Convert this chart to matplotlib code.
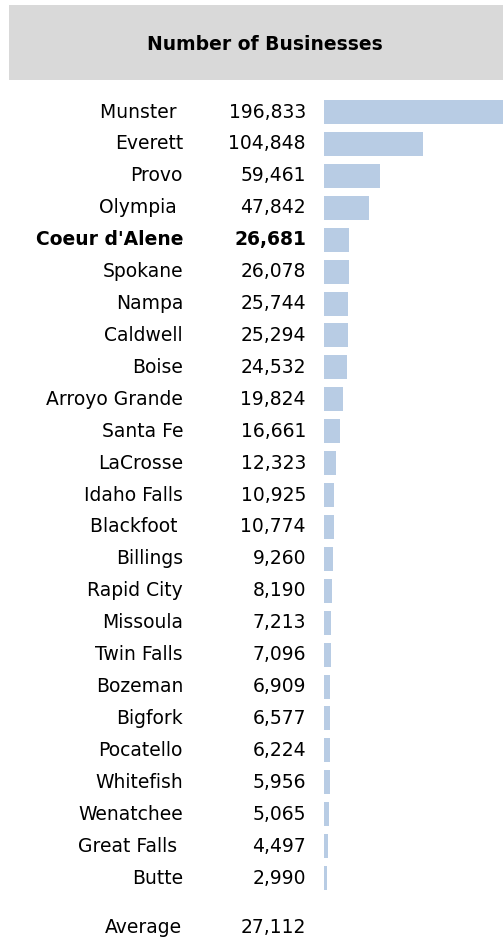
import matplotlib
matplotlib.use("Agg")
import matplotlib.pyplot as plt
import matplotlib.transforms as mtransforms
from matplotlib.patches import Rectangle

title = "Number of Businesses"
cities = ["Munster ", "Everett", "Provo", "Olympia ", "Coeur d'Alene", "Spokane",
          "Nampa", "Caldwell", "Boise", "Arroyo Grande", "Santa Fe", "LaCrosse",
          "Idaho Falls", "Blackfoot ", "Billings", "Rapid City", "Missoula",
          "Twin Falls", "Bozeman", "Bigfork", "Pocatello", "Whitefish",
          "Wenatchee", "Great Falls ", "Butte"]
businesses = [196833, 104848, 59461, 47842, 26681, 26078, 25744, 25294, 24532,
              19824, 16661, 12323, 10925, 10774, 9260, 8190, 7213, 7096, 6909,
              6577, 6224, 5956, 5065, 4497, 2990]
highlight = "Coeur d'Alene"
avg_label = "Average"
avg_value = 27112

W, H = 503, 940
fig = plt.figure(figsize=(W / 100, H / 100), dpi=100)
fig.patch.set_facecolor("white")

# gray header band
fig.patches.append(Rectangle((9 / W, 1 - 80 / H), 1 - 9 / W, 75 / H,
                             transform=fig.transFigure, facecolor="#D9D9D9",
                             edgecolor="none", zorder=0))
fig.text(264.5 / W, 1 - 44 / H, title, ha="center", va="center",
         fontsize=13.5, fontweight="bold", color="black")

# row 0 centre at y=111px, pitch ~31.9px
top_px, pitch = 112, 31.92
ax = fig.add_axes([324 / W, 0, 1 - 324 / W, 1])
ax.set_ylim((H - top_px) / pitch, -top_px / pitch)
ax.set_xlim(0, 190500)
ax.axis("off")

rows = list(range(len(cities)))
ax.barh(rows, businesses, height=24 / pitch, color="#B8CCE4", left=0)

tr = mtransforms.blended_transform_factory(fig.transFigure, ax.transData)
for i, (c, v) in enumerate(zip(cities, businesses)):
    bold = c.strip() == highlight
    fw = "bold" if bold else "normal"
    ax.text(183 / W, i, c, transform=tr, ha="right", va="center",
            fontsize=13.5, fontweight=fw, color="black")
    ax.text(306 / W, i, f"{v:,}", transform=tr, ha="right", va="center",
            fontsize=13.5, fontweight=fw, color="black")

avg_row = (927 - top_px) / pitch
ax.text(182 / W, avg_row, avg_label, transform=tr, ha="right", va="center",
        fontsize=13.5, color="black")
ax.text(306 / W, avg_row, f"{avg_value:,}", transform=tr, ha="right",
        va="center", fontsize=13.5, color="black")

fig.savefig("out.png", dpi=100)
